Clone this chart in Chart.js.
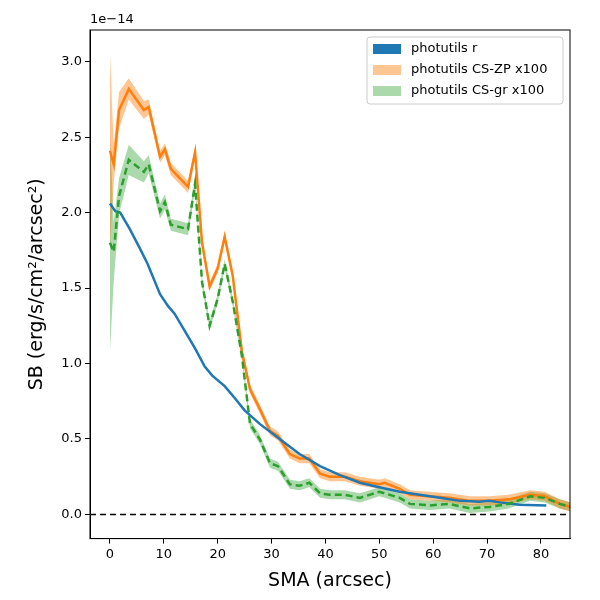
<!DOCTYPE html>
<html><head><script src="https://cdn.jsdelivr.net/npm/chart.js@4"></script>
<style>body{margin:0;background:#fff}</style></head>
<body><canvas id="c" width="600" height="600"></canvas>
<script>
// values in units of 1e-14
const rX = [0,1,1.9,3.7,5.6,7,9.3,10.8,12,13.5,15.8,17.6,19,21.3,23.2,25,27.8,31.5,35.2,39,42.7,46.4,50,53.8,57.5,61.2,65,68.6,70.5,72.4,76,81];
const rY = [2.06,2.01,2.00,1.89,1.76,1.66,1.46,1.38,1.33,1.24,1.10,0.98,0.92,0.85,0.77,0.69,0.60,0.50,0.40,0.32,0.26,0.21,0.18,0.15,0.13,0.11,0.09,0.085,0.09,0.08,0.065,0.06];
const cX = [0,0.7,1.7,3.5,6.3,7.2,9.3,10.2,11.3,14.5,15.8,17.1,18.5,20,21.3,22.8,24.5,26,27.8,29.7,31.2,33.4,35.2,37,39,40.8,43.6,46.4,50,51,53.8,55.7,59.4,63,66.8,70.5,74,78,80.7,83.5,85.5];
const zpY = [2.41,2.32,2.68,2.82,2.68,2.70,2.37,2.42,2.29,2.17,2.40,1.80,1.51,1.63,1.84,1.58,1.08,0.83,0.70,0.555,0.52,0.40,0.37,0.37,0.27,0.25,0.25,0.22,0.20,0.21,0.17,0.13,0.12,0.11,0.09,0.09,0.10,0.13,0.12,0.07,0.05];
const zpErr = [0.65,0.12,0.12,0.07,0.06,0.05,0.04,0.04,0.04,0.04,0.03,0.03,0.03,0.03,0.03,0.03,0.03,0.03,0.03,0.03,0.03,0.03,0.03,0.03,0.03,0.03,0.03,0.03,0.03,0.03,0.03,0.03,0.03,0.03,0.03,0.03,0.03,0.03,0.03,0.03,0.03];
const grY = [1.80,1.74,2.11,2.35,2.27,2.32,2.01,2.07,1.92,1.89,2.19,1.54,1.25,1.43,1.66,1.41,1.05,0.60,0.50,0.34,0.32,0.20,0.19,0.21,0.14,0.13,0.13,0.11,0.15,0.14,0.11,0.07,0.06,0.07,0.04,0.05,0.07,0.12,0.11,0.07,0.05];
const grErr = [0.72,0.2,0.12,0.1,0.07,0.06,0.05,0.05,0.04,0.04,0.04,0.03,0.03,0.03,0.03,0.03,0.03,0.03,0.03,0.03,0.03,0.03,0.03,0.03,0.03,0.03,0.03,0.03,0.03,0.03,0.03,0.03,0.03,0.03,0.03,0.03,0.03,0.03,0.03,0.03,0.03];
const names = ['photutils r','photutils CS-ZP x100','photutils CS-gr x100'];

const pts = (xs, ys, off) => xs.map((x, i) => ({x: x, y: ys[i] + (off ? off[i] : 0)}));
const neg = a => a.map(v => -v);

const extras = {
  id: 'extras',
  afterDraw(ch) {
    const c = ch.ctx, a = ch.chartArea, y0 = ch.scales.y.getPixelForValue(0);
    c.save();
    c.strokeStyle = '#000'; c.lineWidth = 1.5; c.setLineDash([6, 4]);
    c.beginPath(); c.moveTo(a.left, y0); c.lineTo(a.right, y0); c.stroke();
    c.setLineDash([]); c.lineWidth = 1;
    c.strokeRect(a.left, a.top, a.right - a.left, a.bottom - a.top);
    c.fillStyle = '#000'; c.font = '13px "DejaVu Sans"'; c.textBaseline = 'bottom';
    c.fillText('1e\u221214', a.left, a.top - 4);
    // legend
    const lx = a.right - 203, ly = a.top + 7;
    c.fillStyle = 'rgba(255,255,255,0.8)'; c.strokeStyle = '#ccc';
    c.beginPath(); c.roundRect(lx, ly, 196, 67, 3); c.fill(); c.stroke();
    const cols = ['#1f77b4', 'rgba(255,127,14,0.45)', 'rgba(44,160,44,0.4)'];
    c.font = '13px "DejaVu Sans"'; c.textBaseline = 'middle';
    names.forEach((n, i) => {
      const yy = ly + 12 + i * 21;
      c.fillStyle = cols[i]; c.fillRect(lx + 6, yy - 5, 28, 10);
      c.fillStyle = '#000'; c.fillText(n, lx + 44, yy);
    });
    c.restore();
  }
};

new Chart(document.getElementById('c'), {
  type: 'line',
  data: { datasets: [
    {data: pts(cX, zpY, zpErr), borderWidth: 0, pointRadius: 0, fill: false, order: 5},
    {data: pts(cX, zpY, neg(zpErr)), borderWidth: 0, pointRadius: 0, fill: '-1', backgroundColor: 'rgba(255,127,14,0.45)', order: 5},
    {data: pts(cX, grY, grErr), borderWidth: 0, pointRadius: 0, fill: false, order: 5},
    {data: pts(cX, grY, neg(grErr)), borderWidth: 0, pointRadius: 0, fill: '-1', backgroundColor: 'rgba(44,160,44,0.4)', order: 5},
    {label: names[0], data: pts(rX, rY), borderColor: '#1f77b4', borderWidth: 2.5, pointRadius: 0, order: 1},
    {label: names[1], data: pts(cX, zpY), borderColor: '#ff7f0e', borderWidth: 2.5, pointRadius: 0, order: 2},
    {label: names[2], data: pts(cX, grY), borderColor: '#2ca02c', borderWidth: 2.5, borderDash: [7, 4], pointRadius: 0, order: 0}
  ]},
  options: {
    responsive: false, animation: false,
    layout: {padding: {top: 30, right: 30, left: 22, bottom: 4}},
    plugins: {legend: {display: false}, tooltip: {enabled: false}},
    scales: {
      x: {type: 'linear', min: -3.7, max: 85.4,
        grid: {display: true, drawOnChartArea: false, tickLength: 5, color: '#000'},
        border: {color: '#000'},
        afterBuildTicks: s => { s.ticks = [0,10,20,30,40,50,60,70,80].map(v => ({value: v})); },
        ticks: {color: '#000', font: {size: 13, family: 'DejaVu Sans'}},
        title: {display: true, text: 'SMA (arcsec)', color: '#000', font: {size: 19, family: 'DejaVu Sans'}}},
      y: {min: -0.16, max: 3.21,
        afterFit: s => { s.width = 68; },
        grid: {display: true, drawOnChartArea: false, tickLength: 5, color: '#000'},
        border: {color: '#000'},
        afterBuildTicks: s => { s.ticks = [0,0.5,1,1.5,2,2.5,3].map(v => ({value: v})); },
        ticks: {color: '#000', font: {size: 13, family: 'DejaVu Sans'}, callback: v => v.toFixed(1)},
        title: {display: true, text: 'SB (erg/s/cm\u00b2/arcsec\u00b2)', color: '#000', font: {size: 19, family: 'DejaVu Sans'}}}
    }
  },
  plugins: [extras]
});
</script></body></html>
